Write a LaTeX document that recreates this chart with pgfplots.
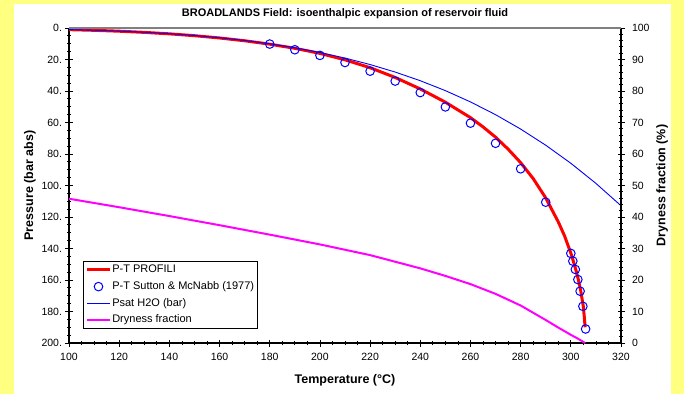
\documentclass[border=0pt]{standalone}
\usepackage{pgfplots}
\pgfplotsset{compat=1.18}
\usepackage{fontspec}
\setmainfont{Liberation Sans}
\definecolor{bgyellow}{RGB}{255,255,128}
\definecolor{magline}{RGB}{255,0,255}
\definecolor{topgray}{RGB}{128,128,128}
\definecolor{psatblue}{RGB}{0,0,255}
\pgfplotsset{
  common/.style={
    scale only axis, width=552pt, height=315pt,
    xmin=100, xmax=320,
    tick align=center,
    major tick length=7pt, minor tick length=4pt,
    axis line style={line width=1.1pt, black},
    every tick/.style={black, line width=0.8pt},
    /pgf/number format/assume math mode=true,
    tick label style={font=\fontsize{10.5}{12}\selectfont},
    label style={font=\fontsize{12.5}{14}\selectfont\bfseries},
  }
}
\begin{document}
\begin{tikzpicture}
\fill[bgyellow] (-69pt,-51pt) rectangle (615pt,343pt);
\fill[white] (-55pt,-51pt) rectangle (602pt,339pt);
\begin{axis}[common,
  ymin=0, ymax=200, y dir=reverse,
  hide x axis,
  axis y line*=left,
  ytick={0,20,...,200}, minor y tick num=3,
  yticklabel={\pgfmathprintnumber{\tick}.},
  ylabel={Pressure (bar abs)},
  ylabel style={at={(axis description cs:-0.0707,0.5)}, anchor=center},
  title={BROADLANDS Field: isoenthalpic expansion of reservoir fluid},
  title style={font=\fontsize{11}{13}\selectfont\bfseries, at={(0.5,1)}, anchor=base, yshift=6pt},
]
\addplot[red, line width=3pt] coordinates {
(100,1.05) (110,1.47) (120,2.03) (130,2.77) (140,3.71) (150,4.88) (160,6.33) (170,8.10)
(180,10.25) (190,12.9) (200,16.1) (210,20.2) (220,25.2) (230,31.4) (240,38.7) (250,47.1)
(260,56.9) (265,62.8) (270,69.3) (275,76.9) (280,85.5) (285,95.6) (290,107.9) (295,123.1)
(297.5,132.0) (300,142.9) (301,148.0) (302,153.5) (303,159.8) (304,167.3) (305,177.0)
(305.4,184.0) (305.7,190.0)};
\addplot[psatblue, line width=0.9pt] coordinates {
(100,1.014) (110,1.434) (120,1.987) (130,2.703) (140,3.615) (150,4.762) (160,6.182)
(170,7.922) (180,10.028) (190,12.552) (200,15.549) (210,19.077) (220,23.196) (230,27.971)
(240,33.469) (250,39.762) (260,46.923) (270,55.030) (280,64.166) (290,74.418) (300,85.879)
(310,98.651) (320,112.84)};
\addplot[blue, only marks, mark=o, mark size=4.3pt, mark options={line width=1pt}] coordinates {
(180,10.2) (190,13.8) (200,17.4) (210,21.9) (220,27.4) (230,33.7) (240,41.0) (250,50.1)
(260,60.4) (270,73.2) (280,89.4) (290,110.6) (300,143.1) (300.8,148.0) (301.8,153.3)
(302.8,159.7) (303.7,167.1) (304.8,176.7) (305.9,191.1)};
\end{axis}
\begin{axis}[common,
  ymin=0, ymax=100,
  axis y line*=right, axis x line*=bottom,
  xtick={100,120,...,320}, minor x tick num=3,
  ytick={0,10,...,100}, minor y tick num=4,
  xticklabel style={yshift=-3pt},
  yticklabel style={xshift=4pt},
  xlabel={Temperature (°C)},
  xlabel style={at={(0.5,0)}, anchor=base, yshift=-40pt},
  ylabel={Dryness fraction (\%)},
  ylabel style={at={(axis description cs:1.0743,0.5)}, anchor=center},
  legend cell align=left,
  legend style={at={(0.0259,0.0444)}, anchor=south west, draw=black, line width=0.8pt,
    fill=white, font=\fontsize{11}{13}\selectfont, inner sep=2pt, row sep=3.5pt,
    nodes={inner sep=1pt, text height=8.5pt, text depth=2.7pt}},
]
\draw[topgray, line width=1.2pt] (rel axis cs:0,1) -- (rel axis cs:1,1);
\addlegendimage{legend image code/.code={\draw[red, line width=3pt] (0pt,0pt) -- (22.6pt,0pt);}}
\addlegendentry{P-T PROFILI}
\addlegendimage{legend image code/.code={\draw[blue, line width=1pt] (11.3pt,0pt) circle[radius=4.3pt];}}
\addlegendentry{P-T Sutton \& McNabb (1977)}
\addlegendimage{legend image code/.code={\draw[psatblue, line width=1.1pt] (0pt,0pt) -- (22.6pt,0pt);}}
\addlegendentry{Psat H2O (bar)}
\addplot[draw=magline, line width=2pt,
  legend image code/.code={\draw[magline, line width=2pt] (0pt,0pt) -- (22.6pt,0pt);}] coordinates {
(100,45.8) (120,43.1) (140,40.3) (160,37.4) (180,34.4) (200,31.3) (220,27.9) (240,23.7)
(250,21.3) (260,18.7) (270,15.6) (280,11.9) (290,7.3) (295,4.9) (300,2.6) (303,1.3) (305.7,0)};
\addlegendentry{Dryness fraction}
\end{axis}
\end{tikzpicture}
\end{document}
